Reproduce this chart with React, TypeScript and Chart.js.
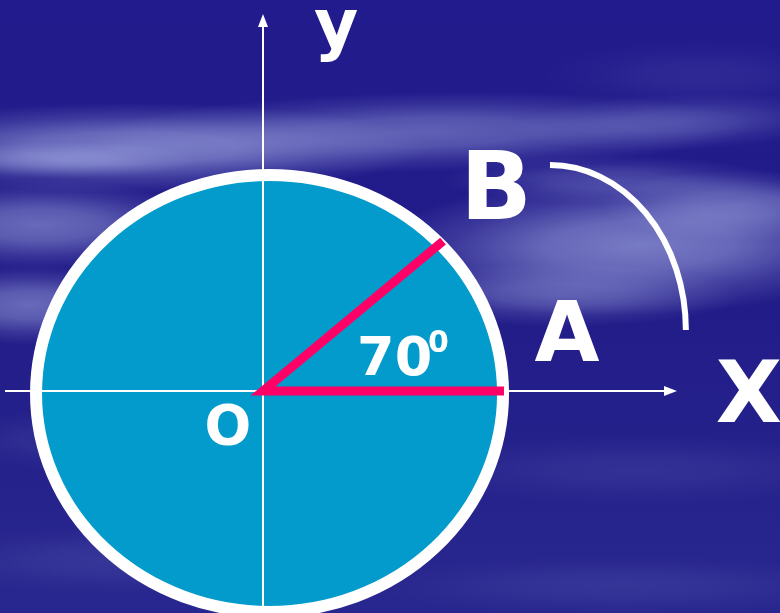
import React, { useEffect, useRef } from "react";
import { Chart, registerables } from "chart.js";

Chart.register(...registerables);

// ---- data (unit circle coordinates) ----
const X_AXIS_RANGE = [-1.105, 1.722]; // line extent; arrow tip beyond
const X_ARROW_TIP = 1.773;
const Y_AXIS_RANGE = [-1.03, 1.67];
const Y_ARROW_TIP = 1.725;
const RAY_X = [0.771, 0, 1.032]; // B -> O -> A
const RAY_Y = [0.686, 0, 0];
const CIRCLE_CENTER = [0.028, -0.011];
const CIRCLE_RADIUS = 1;
const ARC_CENTER = [1.229, 0.279];
const ARC_RADII = [0.582, 0.755];
const ANGLE_TEXT = "70";
const DEGREE_TEXT = "0";
const LABELS = ["y", "B", "A", "X", "O"];
const LABEL_X = [0.313, 0.998, 1.302, 2.081, -0.15];
const LABEL_Y = [1.574, 0.787, 0.137, -0.142, -0.243];
const LABEL_SIZE = [68, 94, 84, 86, 55];

const X_MIN = -1.12634;
const X_MAX = 2.21413;
const Y_MIN = -1.01602;
const Y_MAX = 1.78947;

const FONT = '"DejaVu Sans", Verdana, sans-serif';

function streak(ctx: CanvasRenderingContext2D, cx: number, cy: number, rx: number, ry: number, alpha: number, angle = 0, color = "190,200,245") {
  ctx.save();
  ctx.translate(cx, cy);
  ctx.rotate(angle);
  ctx.scale(rx / ry, 1);
  const g = ctx.createRadialGradient(0, 0, 0, 0, 0, ry);
  g.addColorStop(0, `rgba(${color},${alpha})`);
  g.addColorStop(0.35, `rgba(${color},${alpha * 0.8})`);
  g.addColorStop(0.7, `rgba(${color},${alpha * 0.3})`);
  g.addColorStop(1, `rgba(${color},0)`);
  ctx.fillStyle = g;
  ctx.beginPath();
  ctx.arc(0, 0, ry, 0, Math.PI * 2);
  ctx.fill();
  ctx.restore();
}

const backgroundPlugin = {
  id: "bg",
  beforeDraw(chart: any) {
    const { ctx, width, height } = chart;
    ctx.save();
    const lg = ctx.createLinearGradient(0, 0, 0, height);
    lg.addColorStop(0, "#211b8d");
    lg.addColorStop(0.5, "#221c88");
    lg.addColorStop(1, "#28278f");
    ctx.fillStyle = lg;
    ctx.fillRect(0, 0, width, height);
    // upper streak band
    streak(ctx, 130, 148, 300, 45, 0.55);
    streak(ctx, 420, 132, 330, 40, 0.4, -0.02);
    streak(ctx, 680, 122, 170, 28, 0.25, -0.04);
    streak(ctx, 60, 160, 140, 18, 0.35);
    // left middle streaks
    streak(ctx, 40, 225, 180, 45, 0.45);
    streak(ctx, 30, 305, 130, 40, 0.45);
    // right streak band
    streak(ctx, 640, 245, 270, 70, 0.55, -0.03);
    streak(ctx, 740, 205, 140, 35, 0.35);
    streak(ctx, 560, 295, 180, 32, 0.3);
    streak(ctx, 610, 180, 170, 24, 0.25);
    // top right lighter
    streak(ctx, 700, 75, 160, 35, 0.08);
    // lower subtle streaks
    streak(ctx, 640, 470, 240, 35, 0.09);
    streak(ctx, 120, 560, 220, 35, 0.1);
    streak(ctx, 620, 585, 260, 30, 0.09);
    streak(ctx, 60, 440, 120, 30, 0.08);
    ctx.restore();
  },
};

const shapesPlugin = {
  id: "shapes",
  beforeDatasetsDraw(chart: any) {
    const { ctx } = chart;
    const xs = chart.scales.x;
    const ys = chart.scales.y;
    const cx = xs.getPixelForValue(CIRCLE_CENTER[0]);
    const cy = ys.getPixelForValue(CIRCLE_CENTER[1]);
    const rx = xs.getPixelForValue(CIRCLE_CENTER[0] + CIRCLE_RADIUS) - cx;
    const ry = cy - ys.getPixelForValue(CIRCLE_CENTER[1] + CIRCLE_RADIUS);
    ctx.save();
    ctx.beginPath();
    ctx.ellipse(cx, cy, rx, ry, 0, 0, Math.PI * 2);
    ctx.fillStyle = "#039bcc";
    ctx.fill();
    ctx.lineWidth = 12;
    ctx.strokeStyle = "#ffffff";
    ctx.stroke();
    // arc
    const ax = xs.getPixelForValue(ARC_CENTER[0]);
    const ay = ys.getPixelForValue(ARC_CENTER[1]);
    const arx = xs.getPixelForValue(ARC_CENTER[0] + ARC_RADII[0]) - ax;
    const ary = ay - ys.getPixelForValue(ARC_CENTER[1] + ARC_RADII[1]);
    ctx.beginPath();
    ctx.ellipse(ax, ay, arx, ary, 0, -Math.PI / 2, 0);
    ctx.lineWidth = 6;
    ctx.lineCap = "butt";
    ctx.stroke();
    ctx.restore();
  },
  afterDatasetsDraw(chart: any) {
    const { ctx } = chart;
    const xs = chart.scales.x;
    const ys = chart.scales.y;
    const ox = xs.getPixelForValue(0);
    const oy = ys.getPixelForValue(0);
    ctx.save();
    ctx.fillStyle = "#ffffff";
    // x arrow
    const tx = xs.getPixelForValue(X_ARROW_TIP);
    ctx.beginPath();
    ctx.moveTo(tx, oy);
    ctx.lineTo(tx - 13, oy - 5);
    ctx.lineTo(tx - 13, oy + 5);
    ctx.closePath();
    ctx.fill();
    // y arrow
    const ty = ys.getPixelForValue(Y_ARROW_TIP);
    ctx.beginPath();
    ctx.moveTo(ox, ty);
    ctx.lineTo(ox - 5, ty + 13);
    ctx.lineTo(ox + 5, ty + 13);
    ctx.closePath();
    ctx.fill();
    // labels
    ctx.textBaseline = "alphabetic";
    ctx.textAlign = "center";
    LABELS.forEach((t, i) => {
      ctx.font = `bold ${LABEL_SIZE[i]}px ${FONT}`;
      ctx.fillText(t, xs.getPixelForValue(LABEL_X[i]), ys.getPixelForValue(LABEL_Y[i]));
    });
    ctx.textAlign = "left";
    ctx.font = `bold 54px ${FONT}`;
    ctx.fillText(ANGLE_TEXT, xs.getPixelForValue(0.403), ys.getPixelForValue(0.073));
    ctx.font = `bold 30px ${FONT}`;
    ctx.fillText(DEGREE_TEXT, xs.getPixelForValue(0.707), ys.getPixelForValue(0.178));
    ctx.restore();
  },
};

export default function App() {
  const ref = useRef<HTMLCanvasElement>(null);
  useEffect(() => {
    document.body.style.margin = "0";
    const canvas = ref.current!;
    const chart = new Chart(canvas, {
      type: "scatter",
      data: {
        datasets: [
          {
            data: RAY_X.map((x, i) => ({ x, y: RAY_Y[i] })),
            showLine: true,
            borderColor: "#ff0066",
            borderWidth: 9,
            borderJoinStyle: "miter",
            borderCapStyle: "butt",
            pointRadius: 0,
            order: 0,
            clip: false as any,
          },
          {
            data: [
              { x: X_AXIS_RANGE[0], y: 0 },
              { x: X_AXIS_RANGE[1], y: 0 },
            ],
            showLine: true,
            borderColor: "#ffffff",
            borderWidth: 2,
            pointRadius: 0,
            order: 1,
            clip: false as any,
          },
          {
            data: [
              { x: 0, y: Y_AXIS_RANGE[0] },
              { x: 0, y: Y_AXIS_RANGE[1] },
            ],
            showLine: true,
            borderColor: "#ffffff",
            borderWidth: 2,
            pointRadius: 0,
            order: 2,
            clip: false as any,
          },
        ],
      },
      options: {
        animation: false,
        responsive: false,
        events: [],
        layout: { padding: 0 },
        plugins: { legend: { display: false }, tooltip: { enabled: false } },
        scales: {
          x: { type: "linear", min: X_MIN, max: X_MAX, display: false },
          y: { type: "linear", min: Y_MIN, max: Y_MAX, display: false },
        },
      },
      plugins: [backgroundPlugin, shapesPlugin],
    });
    return () => chart.destroy();
  }, []);
  return (
    <div style={{ width: 780, height: 613, position: "relative" }}>
      <canvas ref={ref} width={780} height={613} style={{ display: "block" }} />
    </div>
  );
}
